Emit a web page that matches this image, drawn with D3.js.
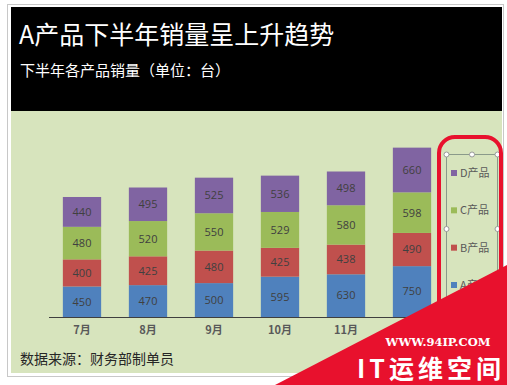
<!DOCTYPE html>
<html>
<head>
<meta charset="utf-8">
<script src="https://cdn.jsdelivr.net/npm/d3@7"></script>
<style>
  html, body { margin: 0; padding: 0; background: #fff; }
  svg { display: block; }
</style>
</head>
<body>
<div id="chart"></div>
<script>
// data
const months = ['7月', '8月', '9月', '10月', '11月', '12月'];
const seriesNames = ['A产品', 'B产品', 'C产品', 'D产品'];
const productA = [450, 470, 500, 595, 630, 750];
const productB = [400, 425, 480, 425, 438, 490];
const productC = [480, 520, 550, 529, 580, 598];
const productD = [440, 495, 525, 536, 498, 660];
const colors = ['#4F81BD', '#C0504D', '#9BBB59', '#8064A2'];

const title = 'A产品下半年销量呈上升趋势';
const subtitle = '下半年各产品销量（单位：台）';
const source = '数据来源：财务部制单员';

const width = 507, height = 385;
const cjk = '"Noto Sans CJK SC", "Noto Sans", sans-serif';

const svg = d3.select('#chart').append('svg')
    .attr('width', width)
    .attr('height', height);

// outer frame
svg.append('rect')
    .attr('x', 7.5).attr('y', 4.5)
    .attr('width', 496).attr('height', 372)
    .attr('fill', '#fff')
    .attr('stroke', '#c8c8c8');

// chart background + header
svg.append('rect')
    .attr('x', 11).attr('y', 7)
    .attr('width', 491).attr('height', 366)
    .attr('fill', '#D7E4BD');
svg.append('rect')
    .attr('x', 11).attr('y', 7)
    .attr('width', 491).attr('height', 104)
    .attr('fill', '#000');

svg.append('text')
    .attr('x', 19).attr('y', 44)
    .attr('fill', '#fff')
    .style('font-family', cjk)
    .style('font-size', '25px')
    .text(title);

svg.append('text')
    .attr('x', 20).attr('y', 76)
    .attr('fill', '#fff')
    .style('font-family', cjk)
    .style('font-size', '15px')
    .text(subtitle);

// stack the series
const rows = months.map((m, i) => ({
    month: m,
    'A产品': productA[i],
    'B产品': productB[i],
    'C产品': productC[i],
    'D产品': productD[i]
}));
const stacked = d3.stack().keys(seriesNames)(rows);

const x = d3.scaleBand()
    .domain(months)
    .range([49, 445])
    .paddingInner(0.42)
    .paddingOuter(0.21);

const y = d3.scaleLinear()
    .domain([0, 3000])
    .range([317, 113.6]);

const layers = svg.append('g').selectAll('g')
    .data(stacked)
    .join('g')
    .attr('fill', (d, i) => colors[i]);

layers.selectAll('rect')
    .data(d => d)
    .join('rect')
    .attr('x', d => x(d.data.month))
    .attr('y', d => y(d[1]))
    .attr('width', x.bandwidth())
    .attr('height', d => y(d[0]) - y(d[1]));

layers.selectAll('text')
    .data(d => d)
    .join('text')
    .attr('x', d => x(d.data.month) + x.bandwidth() / 2)
    .attr('y', d => (y(d[0]) + y(d[1])) / 2)
    .attr('dy', '0.35em')
    .attr('text-anchor', 'middle')
    .attr('fill', '#404040')
    .style('font-family', '"Open Sans", sans-serif')
    .style('font-size', '11px')
    .text(d => d[1] - d[0]);

// category axis
const xAxis = svg.append('g')
    .attr('transform', 'translate(0,317)')
    .call(d3.axisBottom(x).tickSize(0).tickPadding(9));
xAxis.select('.domain').attr('stroke', '#3f3f3f').attr('d', 'M49,0.5H445');
xAxis.selectAll('text')
    .attr('fill', '#595959')
    .style('font-family', cjk)
    .style('font-size', '11px')
    .style('font-weight', 'bold');

svg.append('text')
    .attr('x', 20).attr('y', 364)
    .attr('fill', '#262626')
    .style('font-family', cjk)
    .style('font-size', '14px')
    .text(source);

// legend with its selection frame
svg.append('rect')
    .attr('x', 446.5).attr('y', 154.5)
    .attr('width', 51).attr('height', 150)
    .attr('fill', 'none')
    .attr('stroke', '#8a9a8a');

const legendY = d3.scalePoint()
    .domain(seriesNames.slice().reverse())
    .range([173, 285]);

const legend = svg.append('g').selectAll('g')
    .data(seriesNames)
    .join('g')
    .attr('transform', d => `translate(451,${legendY(d)})`);
legend.append('rect')
    .attr('x', 0).attr('y', -3)
    .attr('width', 6).attr('height', 6)
    .attr('fill', (d, i) => colors[i]);
legend.append('text')
    .attr('x', 9).attr('dy', '0.35em')
    .attr('fill', '#595959')
    .style('font-family', cjk)
    .style('font-size', '11px')
    .text(d => d);

const handles = [[446.5, 154.5], [472, 154.5], [497.5, 154.5], [446.5, 229], [497.5, 229]];
svg.append('g').selectAll('circle')
    .data(handles)
    .join('circle')
    .attr('cx', d => d[0]).attr('cy', d => d[1])
    .attr('r', 2.5)
    .attr('fill', '#fff')
    .attr('stroke', '#999');

// red annotation around the legend
svg.append('rect')
    .attr('x', 439).attr('y', 137)
    .attr('width', 62).attr('height', 250)
    .attr('rx', 16)
    .attr('fill', 'none')
    .attr('stroke', '#E8112D')
    .attr('stroke-width', 4);

// watermark
svg.append('path')
    .attr('d', 'M507,265L275,385H507Z')
    .attr('fill', '#E8112D');
svg.append('text')
    .attr('x', 438).attr('y', 346)
    .attr('text-anchor', 'middle')
    .attr('fill', '#fff')
    .style('font-family', '"DejaVu Serif", serif')
    .style('font-weight', 'bold')
    .style('font-size', '11.5px')
    .text('WWW.94IP.COM');
svg.append('text')
    .attr('x', 431).attr('y', 378)
    .attr('text-anchor', 'middle')
    .attr('fill', '#fff')
    .style('font-family', cjk)
    .style('font-weight', 'bold')
    .style('font-size', '25px')
    .style('letter-spacing', '4px')
    .text('IT运维空间');
</script>
</body>
</html>
